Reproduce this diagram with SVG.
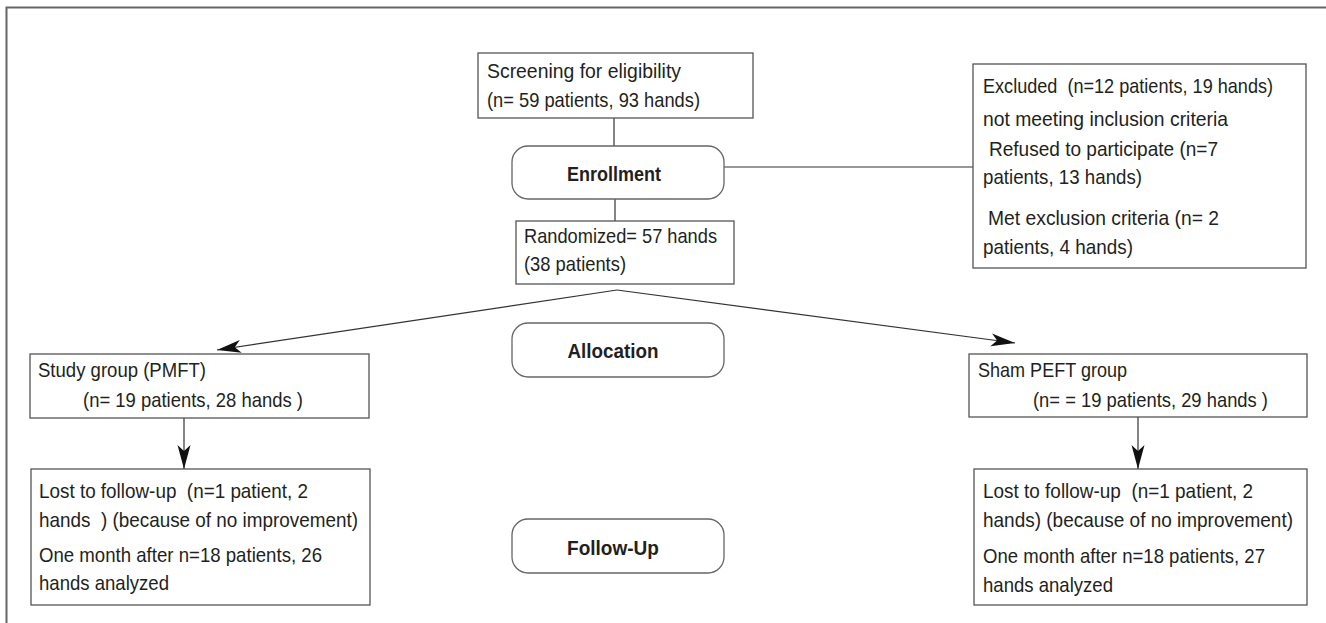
<svg xmlns="http://www.w3.org/2000/svg" width="1326" height="623" viewBox="0 0 1326 623">
<style>
.box{fill:#fff;stroke:#555;stroke-width:1.3}
.rbox{fill:#fff;stroke:#666;stroke-width:1.3}
.t{font-family:"Liberation Sans",Arial,sans-serif;font-size:21px;fill:#231f20;white-space:pre}
.b{font-family:"Liberation Sans",Arial,sans-serif;font-size:21px;font-weight:bold;fill:#231f20;text-anchor:middle}
.ln{stroke:#333;stroke-width:1.2;fill:none}
.frame{stroke:#666;stroke-width:2;fill:none}
</style>
<defs>
<marker id="ah" markerUnits="userSpaceOnUse" markerWidth="26" markerHeight="14" viewBox="-24 -7 26 14" refX="0" refY="0" orient="auto">
<path d="M0,0 L-24,-6.5 L-18,0 L-24,6.5 Z" fill="#111"/>
</marker>
</defs>
<rect width="1326" height="623" fill="#fff"/>
<path class="frame" d="M6.5,623 V7.5 H1326"/>

<g id="connectors">
<line class="ln" x1="614" y1="118" x2="614" y2="146"/>
<line class="ln" x1="615" y1="199" x2="615" y2="221"/>
<line class="ln" x1="724" y1="167" x2="973" y2="167"/>
<line class="ln" x1="617" y1="290" x2="217" y2="350" marker-end="url(#ah)"/>
<line class="ln" x1="617" y1="290" x2="1015" y2="343" marker-end="url(#ah)"/>
<line class="ln" x1="184" y1="418" x2="184" y2="469" marker-end="url(#ah)"/>
<line class="ln" x1="1138" y1="417" x2="1138" y2="469" marker-end="url(#ah)"/>
</g>

<g id="screening">
<rect class="box" x="478" y="53" width="275" height="65"/>
<text class="t" x="487" y="78" textLength="194" lengthAdjust="spacingAndGlyphs">Screening for eligibility</text>
<text class="t" x="487" y="107" textLength="213" lengthAdjust="spacingAndGlyphs">(n= 59 patients, 93 hands)</text>
</g>

<g id="enrollment">
<rect class="rbox" x="512" y="146" width="212" height="53" rx="16"/>
<text class="b" x="614" y="181" textLength="94" lengthAdjust="spacingAndGlyphs">Enrollment</text>
</g>

<g id="excluded">
<rect class="box" x="973" y="64" width="333" height="204"/>
<text class="t" x="983" y="93" textLength="290" lengthAdjust="spacingAndGlyphs">Excluded  (n=12 patients, 19 hands)</text>
<text class="t" x="983" y="126" textLength="245" lengthAdjust="spacingAndGlyphs">not meeting inclusion criteria</text>
<text class="t" x="989" y="156" textLength="229" lengthAdjust="spacingAndGlyphs">Refused to participate (n=7</text>
<text class="t" x="983" y="184" textLength="159" lengthAdjust="spacingAndGlyphs">patients, 13 hands)</text>
<text class="t" x="988" y="225" textLength="231" lengthAdjust="spacingAndGlyphs">Met exclusion criteria (n= 2</text>
<text class="t" x="983" y="254" textLength="150" lengthAdjust="spacingAndGlyphs">patients, 4 hands)</text>
</g>

<g id="randomized">
<rect class="box" x="516" y="221" width="218" height="63"/>
<text class="t" x="524" y="243" textLength="193" lengthAdjust="spacingAndGlyphs">Randomized= 57 hands</text>
<text class="t" x="524" y="271" textLength="102" lengthAdjust="spacingAndGlyphs">(38 patients)</text>
</g>

<g id="allocation">
<rect class="rbox" x="512" y="323" width="212" height="54" rx="16"/>
<text class="b" x="613" y="358" textLength="91" lengthAdjust="spacingAndGlyphs">Allocation</text>
</g>

<g id="study">
<rect class="box" x="30" y="354" width="339" height="64"/>
<text class="t" x="38" y="377" textLength="168" lengthAdjust="spacingAndGlyphs">Study group (PMFT)</text>
<text class="t" x="83" y="407" textLength="220" lengthAdjust="spacingAndGlyphs">(n= 19 patients, 28 hands )</text>
</g>

<g id="sham">
<rect class="box" x="969" y="354" width="338" height="63"/>
<text class="t" x="978" y="377" textLength="149" lengthAdjust="spacingAndGlyphs">Sham PEFT group</text>
<text class="t" x="1033" y="407" textLength="235" lengthAdjust="spacingAndGlyphs">(n= = 19 patients, 29 hands )</text>
</g>

<g id="followup">
<rect class="rbox" x="512" y="519" width="212" height="54" rx="16"/>
<text class="b" x="613" y="555" textLength="92" lengthAdjust="spacingAndGlyphs">Follow-Up</text>
</g>

<g id="lost-study">
<rect class="box" x="31" y="469" width="339" height="136"/>
<text class="t" x="39" y="498" textLength="269" lengthAdjust="spacingAndGlyphs">Lost to follow-up  (n=1 patient, 2</text>
<text class="t" x="39" y="527" textLength="319" lengthAdjust="spacingAndGlyphs">hands  ) (because of no improvement)</text>
<text class="t" x="39" y="562" textLength="283" lengthAdjust="spacingAndGlyphs">One month after n=18 patients, 26</text>
<text class="t" x="39" y="590" textLength="130" lengthAdjust="spacingAndGlyphs">hands analyzed</text>
</g>

<g id="lost-sham">
<rect class="box" x="974" y="469" width="333" height="136"/>
<text class="t" x="983" y="498" textLength="270" lengthAdjust="spacingAndGlyphs">Lost to follow-up  (n=1 patient, 2</text>
<text class="t" x="983" y="527" textLength="310" lengthAdjust="spacingAndGlyphs">hands) (because of no improvement)</text>
<text class="t" x="983" y="563" textLength="282" lengthAdjust="spacingAndGlyphs">One month after n=18 patients, 27</text>
<text class="t" x="983" y="592" textLength="130" lengthAdjust="spacingAndGlyphs">hands analyzed</text>
</g>
</svg>
